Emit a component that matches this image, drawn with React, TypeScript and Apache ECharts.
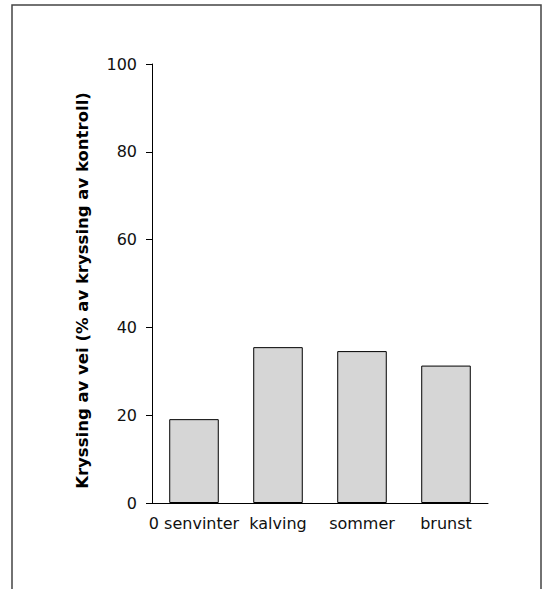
import React, { useEffect, useRef } from "react";
import * as echarts from "echarts";

const categories = ["0 senvinter", "kalving", "sommer", "brunst"];
const values = [19.1, 35.5, 34.6, 31.3];
const yTicks = [0, 20, 40, 60, 80, 100];
const yAxisTitle = "Kryssing av vei (% av kryssing av kontroll)";

export default function App() {
  const ref = useRef<HTMLDivElement>(null);
  useEffect(() => {
    if (!ref.current) return;
    const chart = echarts.init(ref.current, null, { renderer: "svg" });
    const font = "'DejaVu Sans', Verdana, sans-serif";
    chart.setOption({
      animation: false,
      backgroundColor: "#ffffff",
      graphic: [
        {
          type: "rect",
          shape: { x: 12, y: 5, width: 529, height: 620 },
          style: { fill: "none", stroke: "#444", lineWidth: 1.5 },
          silent: true,
        },
      ],
      grid: { left: 152, right: 58, top: 64, bottom: 86, containLabel: false },
      xAxis: {
        type: "category",
        data: categories,
        axisLine: { show: true, lineStyle: { color: "#000", width: 1 } },
        axisTick: { show: true, alignWithLabel: true, inside: true, length: 2, lineStyle: { color: "#000" } },
        axisLabel: { color: "#111", fontSize: 16, fontFamily: font, margin: 12, interval: 0 },
      },
      yAxis: {
        type: "value",
        min: yTicks[0],
        max: yTicks[yTicks.length - 1],
        interval: 20,
        name: yAxisTitle,
        nameLocation: "middle",
        nameRotate: 90,
        nameGap: 61,
        nameTextStyle: { color: "#000", fontSize: 16.5, fontWeight: "bold", fontFamily: font, padding: [0, 14, 0, 0] },
        axisLine: { show: true, lineStyle: { color: "#000", width: 1 } },
        axisTick: { show: true, length: 6, lineStyle: { color: "#000" } },
        axisLabel: { color: "#111", fontSize: 16, fontFamily: font, margin: 15 },
        splitLine: { show: false },
      },
      series: [
        {
          type: "bar",
          data: values,
          barWidth: "59%",
          itemStyle: { color: "#d6d6d6", borderColor: "#000", borderWidth: 1 },
        },
      ],
    });
    return () => chart.dispose();
  }, []);
  return (
    <div
      ref={ref}
      style={{ position: "absolute", left: 0, top: 0, width: 546, height: 589 }}
    />
  );
}
